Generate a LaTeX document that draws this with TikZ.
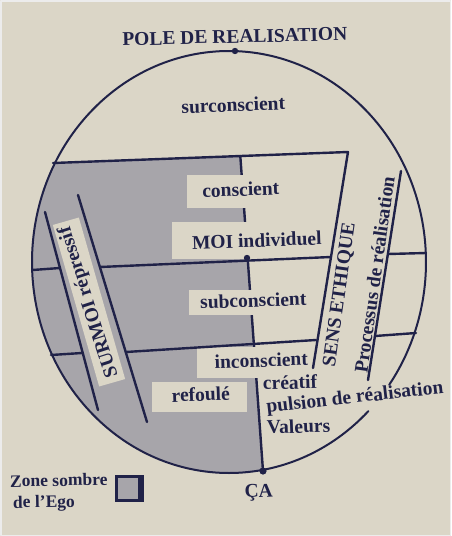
\documentclass[tikz,border=0pt]{standalone}
\usepackage{fontspec}
\usetikzlibrary{calc}
\setmainfont{Liberation Serif}
\definecolor{paper}{RGB}{219,214,199}
\definecolor{ink}{RGB}{32,34,72}
\definecolor{egogray}{RGB}{167,165,170}
\begin{document}
\begin{tikzpicture}[x=1pt,y=-1pt,line cap=round,line join=round,
  ln/.style={draw=ink,line width=2.4pt},
  txt/.style={font=\fontsize{19.5}{22}\selectfont\bfseries,text=ink,inner sep=0pt,rotate=2,anchor=base},
  smalltxt/.style={font=\fontsize{17.5}{20}\selectfont\bfseries,text=ink,inner sep=0pt,anchor=base west,rotate=1},
  lblbox/.style={fill=paper}]
\fill[paper] (0,0) rectangle (451,536);
\useasboundingbox (0,0) rectangle (451,536);
\draw[white!85!gray,line width=1.5pt] (0.75,0.75) rectangle (450.25,535.25);

% named points
\coordinate (ctr) at (229,262);
\coordinate (a1) at (53,163);
\coordinate (a2) at (348,152);
\coordinate (s2) at (313,368);
\coordinate (ax1) at (240.3,156);
\coordinate (ax2) at (263,471);
\coordinate (b1) at (100,267);
\coordinate (b2) at (331,257);
\coordinate (c1) at (126,352);
\coordinate (c2) at (316,340);
\coordinate (l1) at (45,212);
\coordinate (l2) at (98,410);
\coordinate (r1) at (78,195);
\coordinate (r2) at (147,422);
\coordinate (p1) at (401,171);
\coordinate (p2) at (368,380);

% grey zone
\begin{scope}
\clip (ctr) ellipse [x radius=197, y radius=211];
\fill[egogray] (0,165) -- (a1) -- (ax1) -- (ax2) -- (264,485) -- (0,485) -- cycle;
\end{scope}

% axis under the label boxes
\draw[ln] (ax1) -- (ax2);

% label boxes
\fill[lblbox] (187,175) rectangle (300,208);
\fill[lblbox] (172,222) rectangle (325,259);
\fill[lblbox] (189,290) rectangle (312,315);
\fill[lblbox] (197,347) rectangle (310,378);
\fill[lblbox] (152,382) rectangle (247,412);
\node[lblbox,rotate=106,minimum width=168pt,minimum height=27pt,inner sep=0pt] (surbox) at (89,302) {};

% circle, open where the text crosses it
\draw[draw=ink,line width=2pt] ($(ctr)+(45:197 and 211)$) coordinate (gapa)
  arc[start angle=45,end angle=395.6,x radius=197,y radius=211];

% lines
\draw[ln] (a1) -- (a2) -- (s2);
\draw[ln] (b1) -- (b2);
\draw[ln] (c1) -- (c2);
\draw[ln] (l1) -- (l2);
\draw[ln] (r1) -- (r2);
\draw[ln] (p1) -- (p2);
\coordinate (e1) at (32.5,270);
\coordinate (e1b) at (60,268);
\coordinate (e2) at (51,355);
\coordinate (e2b) at (82,353);
\coordinate (e3) at (388,254);
\coordinate (e3b) at (426,253);
\coordinate (e4) at (375,336);
\coordinate (e4b) at (416,333);
\draw[ln] (e1) -- (e1b);
\draw[ln] (e2) -- (e2b);
\draw[ln] (e3) -- (e3b);
\draw[ln] (e4) -- (e4b);

% dots
\fill[ink] (235,51) circle (3.2pt) coordinate (top);
\fill[ink] (247,258) circle (3.2pt) coordinate (moi);
\fill[ink] (ax2) circle (3.6pt);

% texts
\node[txt,rotate=-0.6] (pole) at (235,43) {POLE DE REALISATION};
\node[txt] (sur) at (233.5,111.5) {surconscient};
\node[txt] (con) at (241,196) {conscient};
\node[txt] (moitxt) at (257,247) {MOI individuel};
\node[txt] (sub) at (253.5,307) {subconscient};
\node[txt] (inc) at (261.5,367) {inconscient};
\node[txt] (ref) at (201,401) {refoulé};
\node[txt,anchor=base west] (cre) at (263,390) {créatif};
\node[txt,anchor=base west,rotate=4.4] (pul) at (267,413) {pulsion de réalisation};
\node[txt,anchor=base west] (val) at (267,434) {Valeurs};
\node[txt] (ca) at (259,497) {ÇA};
\node[txt,anchor=center,rotate=106] (surmoi) at (surbox.center) {SURMOI répressif};
\node[txt,anchor=center,rotate=80] (sens) at (340,295) {SENS ETHIQUE};
\node[txt,anchor=center,rotate=80] (proc) at (374.5,274.5) {Processus de réalisation};

% legend
\node[smalltxt] (zone) at (10,487) {Zone sombre};
\node[smalltxt] (ego) at (13,508) {de l’Ego};
\fill[ink] (115,475) rectangle (143.5,502);
\fill[egogray] (118,478) rectangle (137.5,498.5);
\end{tikzpicture}
\end{document}
